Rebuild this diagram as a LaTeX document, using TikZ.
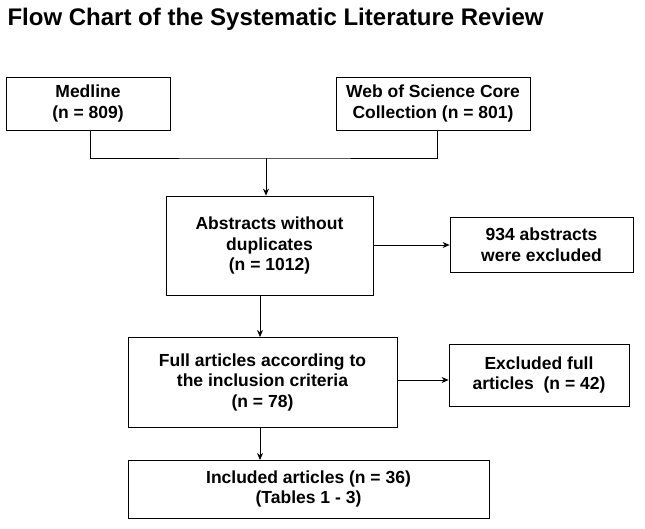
\documentclass[tikz,border=0pt]{standalone}
\usepackage{fontspec}
\setmainfont{Liberation Sans}
\usetikzlibrary{arrows.meta}
\begin{document}
\begin{tikzpicture}[x=1pt,y=-1pt,
  bx/.style={draw,line width=0.8pt,font=\bfseries\fontsize{17.5}{20.5}\selectfont,align=center,inner sep=0pt},
  ar/.style={-{Stealth[length=7pt,width=6pt]},line width=0.7pt}]
\useasboundingbox (0,0) rectangle (645,529);
\node[anchor=west,font=\bfseries\fontsize{24}{28}\selectfont] (t) at (4,19) {Flow Chart of the Systematic Literature Review};
\node[bx,minimum width=164pt,minimum height=53pt] (m) at (88,103.5) {Medline\\(n = 809)};
\node[bx,minimum width=194pt,minimum height=53pt] (w) at (433,103.5) {Web of Science Core\\Collection (n = 801)};
\node[bx,minimum width=207pt,minimum height=99pt] (a) at (269.5,245.5) {Abstracts without\\duplicates\\(n = 1012)};
\node[bx,minimum width=183pt,minimum height=55pt] (e1) at (541.5,244.5) {934 abstracts\\were excluded};
\node[bx,minimum width=269pt,minimum height=90pt] (f) at (262.5,382) {Full articles according to\\the inclusion criteria\\(n = 78)};
\node[bx,minimum width=180pt,minimum height=62pt] (e2) at (539,375) {Excluded full\\articles\ \ (n = 42)};
\node[bx,minimum width=361pt,minimum height=58pt] (i) at (308.5,489) {Included articles (n = 36)\\(Tables 1 - 3)};
\coordinate (j) at (266,158);
\draw[line width=0.7pt] (m.south -| 90,0) |- (j) -| (w.south -| 437,0);
\draw[ar] (j) -- (j |- a.north);
\draw[ar] (a.east |- 0,245) -- (e1.west |- 0,245);
\draw[ar] (260,295) -- (260,337);
\draw[ar] (f.east |- 0,380) -- (e2.west |- 0,380);
\draw[ar] (260,427) -- (260,460);
\end{tikzpicture}
\end{document}
